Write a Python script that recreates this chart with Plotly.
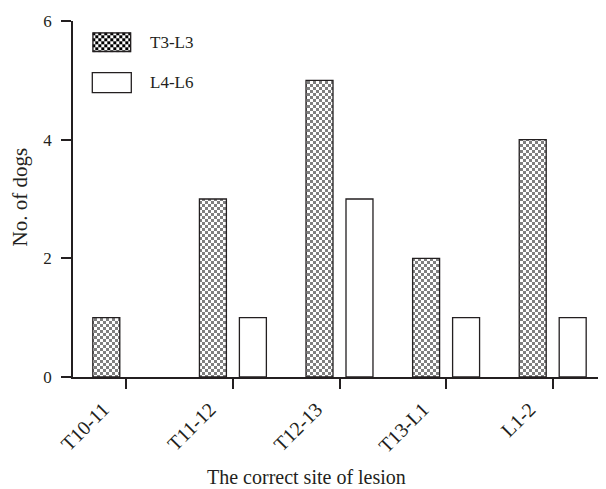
import base64
import plotly.graph_objects as go

categories = ["T10-11", "T11-12", "T12-13", "T13-L1", "L1-2"]
t3_l3 = [1, 3, 5, 2, 4]
l4_l6 = [0, 1, 3, 1, 1]
series_names = ["T3-L3", "L4-L6"]
y_ticks = [0, 2, 4, 6]

FONT = "Liberation Serif"
INK = "#231f20"
LW = 1.3

# the page puts the figure 8px in from the top-left corner
W, H = 598, 481
ML, MT, MB, MR = 65, 13, 112, 0


def line_widths(vals):
    return [LW if v > 0 else 0 for v in vals]


def checker_pattern():
    try:
        return go.bar.marker.Pattern(path="M0,0H3V3H0ZM3,3H6V6H3Z", size=6,
                                     fgcolor="black", bgcolor="white",
                                     fillmode="overlay")
    except Exception:
        return go.bar.marker.Pattern(shape=".", fgcolor="white", bgcolor="black",
                                     size=6, solidity=0.45, fillmode="overlay")


fig = go.Figure()
fig.add_trace(go.Bar(
    x=categories, y=t3_l3, name=series_names[0], showlegend=False,
    marker=dict(color="black", line=dict(color=INK, width=line_widths(t3_l3)),
                pattern=checker_pattern()),
))
fig.add_trace(go.Bar(
    x=categories, y=l4_l6, name=series_names[1], showlegend=False,
    marker=dict(color="white", line=dict(color=INK, width=line_widths(l4_l6))),
))

# legend drawn by hand (large swatches like the reference)
svg = ("<svg xmlns='http://www.w3.org/2000/svg' width='39' height='20'>"
       "<defs><pattern id='p' width='6' height='6' patternUnits='userSpaceOnUse'>"
       "<rect width='6' height='6' fill='white'/>"
       "<rect width='3' height='3' fill='black'/>"
       "<rect x='3' y='3' width='3' height='3' fill='black'/></pattern></defs>"
       "<rect width='39' height='20' fill='url(#p)' stroke='#231f20' stroke-width='2.6'/>"
       "</svg>")
svg_uri = "data:image/svg+xml;base64," + base64.b64encode(svg.encode()).decode()

plot_w = W - ML - MR
plot_h = H - MT - MB


def px_x(X):
    return (X - 8 - ML) / plot_w


def px_y(Y):
    return (H - MB + 8 - Y) / plot_h


fig.add_layout_image(dict(
    source=svg_uri, xref="paper", yref="paper",
    x=px_x(92.3), y=px_y(32.3), sizex=39 / plot_w, sizey=20 / plot_h,
    xanchor="left", yanchor="top", sizing="stretch", layer="above",
))
fig.add_shape(type="rect", xref="paper", yref="paper",
              x0=px_x(92.3), x1=px_x(131.3), y0=px_y(92.7), y1=px_y(72.7),
              line=dict(color=INK, width=LW), fillcolor="white")

fig.update_layout(
    width=W, height=H,
    margin=dict(l=ML, r=MR, t=MT, b=MB, autoexpand=False),
    paper_bgcolor="white", plot_bgcolor="white",
    font=dict(family=FONT, size=17, color=INK),
    barmode="group", bargap=0.25, bargroupgap=0.325,
    showlegend=False,
    xaxis=dict(
        showline=True, linecolor=INK, linewidth=1.5,
        ticks="outside", ticklen=10, tickwidth=1.5, tickcolor=INK,
        tickangle=-45, tickfont=dict(family=FONT, size=20, color=INK),
        ticklabelshift=-23, ticklabelstandoff=1,
        showgrid=False, zeroline=False, range=[-0.5, 4.5],
    ),
    yaxis=dict(
        showline=True, linecolor=INK, linewidth=1.5,
        ticks="outside", ticklen=10, tickwidth=1.5, tickcolor=INK,
        tickvals=y_ticks, tickfont=dict(family=FONT, size=17, color=INK),
        ticklabelstandoff=6,
        showgrid=False, zeroline=False, range=[0, 6],
    ),
    annotations=[
        dict(text=series_names[0], xref="paper", yref="paper",
             x=px_x(147.7), y=px_y(42.3), xanchor="left", yanchor="middle",
             showarrow=False, font=dict(family=FONT, size=17, color=INK)),
        dict(text=series_names[1], xref="paper", yref="paper",
             x=px_x(147.7), y=px_y(82.7), xanchor="left", yanchor="middle",
             showarrow=False, font=dict(family=FONT, size=17, color=INK)),
        dict(text="The correct site of lesion", xref="paper", yref="paper",
             x=px_x(306), y=px_y(477), xanchor="center", yanchor="middle",
             showarrow=False, font=dict(family=FONT, size=20, color=INK)),
        dict(text="No. of dogs", xref="paper", yref="paper",
             x=px_x(19.5), y=px_y(197), xanchor="center", yanchor="middle",
             textangle=-90, showarrow=False,
             font=dict(family=FONT, size=21, color=INK)),
    ],
)

fig.write_html("out.html")
